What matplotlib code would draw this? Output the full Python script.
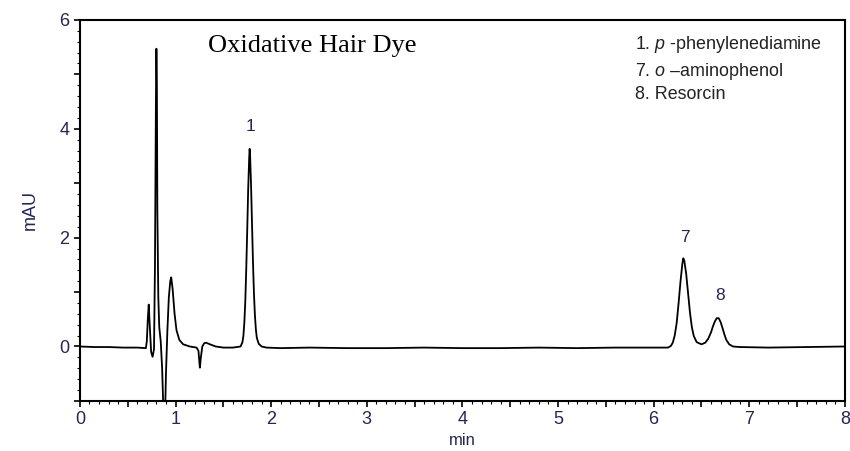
import matplotlib
matplotlib.use("Agg")
import matplotlib.pyplot as plt
from matplotlib.ticker import MultipleLocator, FuncFormatter

# chromatogram trace (time in min, signal in mAU)
time_min = [0.00, 0.15, 0.30, 0.45, 0.60, 0.69, 0.70, 0.71, 0.72, 0.73, 0.745,
            0.76, 0.775, 0.785, 0.795, 0.80, 0.805, 0.81, 0.82, 0.83, 0.845,
            0.86, 0.875, 0.89, 0.90, 0.915, 0.93, 0.945, 0.955, 0.97, 0.99,
            1.01, 1.04, 1.08, 1.15, 1.22, 1.24, 1.25, 1.255, 1.265, 1.28,
            1.30, 1.32, 1.36, 1.42, 1.50, 1.60, 1.68, 1.70, 1.71, 1.72, 1.73,
            1.74, 1.75, 1.76, 1.77, 1.775, 1.78, 1.79, 1.80, 1.81, 1.82, 1.83,
            1.84, 1.85, 1.87, 1.90, 1.95, 2.10, 2.40, 2.80, 3.20, 3.60, 4.00,
            4.40, 4.80, 5.20, 5.60, 6.00, 6.15, 6.18, 6.20, 6.22, 6.24, 6.26,
            6.28, 6.30, 6.31, 6.32, 6.34, 6.36, 6.38, 6.40, 6.42, 6.45, 6.50,
            6.54, 6.57, 6.60, 6.62, 6.64, 6.66, 6.68, 6.70, 6.72, 6.74, 6.76,
            6.79, 6.83, 6.90, 7.20, 7.60, 8.00]
signal_mau = [0.00, -0.01, -0.01, -0.02, -0.02, -0.03, 0.10, 0.50, 0.77, 0.40, -0.10,
              -0.19, -0.05, 1.50, 4.50, 5.47, 4.80, 2.50, 0.90, 0.35, 0.10,
              -0.40, -1.30, -1.30, -0.50, 0.30, 0.90, 1.20, 1.27, 1.05, 0.60,
              0.30, 0.12, 0.04, 0.00, -0.02, -0.08, -0.30, -0.39, -0.20, 0.00,
              0.06, 0.07, 0.04, 0.00, -0.02, -0.02, 0.00, 0.08, 0.20, 0.45, 0.85,
              1.45, 2.15, 2.90, 3.45, 3.63, 3.50, 2.95, 2.25, 1.55, 0.98, 0.58,
              0.32, 0.16, 0.05, 0.00, -0.02, -0.03, -0.02, -0.03, -0.03, -0.02, -0.03,
              -0.03, -0.02, -0.03, -0.02, -0.02, -0.02, 0.01, 0.07, 0.20, 0.42, 0.78,
              1.18, 1.52, 1.62, 1.58, 1.34, 0.98, 0.62, 0.35, 0.19, 0.08, 0.04,
              0.07, 0.14, 0.26, 0.37, 0.46, 0.52, 0.52, 0.45, 0.34, 0.22, 0.12,
              0.04, 0.00, -0.01, -0.02, -0.01, 0.00]

peak_ids = ["1", "7", "8"]
peak_label_x = [1.78, 6.33, 6.69]
peak_label_y = [4.05, 2.00, 0.94]

compound_num = ["1. ", "7. ", "8. "]
compound_prefix = ["p", "o", ""]
compound_name = [" -phenylenediamine", " \u2013aminophenol", "Resorcin"]

plt.rcParams["font.family"] = ["Liberation Sans", "DejaVu Sans"]
plt.rcParams["mathtext.fontset"] = "custom"
plt.rcParams["mathtext.it"] = "Liberation Sans:italic"
plt.rcParams["mathtext.rm"] = "Liberation Sans"

fig = plt.figure(figsize=(8.5, 4.51), dpi=100)
ax = fig.add_axes([0.094, 0.111, 0.900, 0.845])
ax.plot(time_min, signal_mau, color="black", linewidth=1.3)

ax.set_xlim(0, 8)
ax.set_ylim(-1, 6)

tick_col = "#242850"
ax.xaxis.set_major_locator(MultipleLocator(0.5))
ax.xaxis.set_minor_locator(MultipleLocator(0.1))
ax.xaxis.set_major_formatter(FuncFormatter(lambda v, p: "%d" % v if abs(v - round(v)) < 1e-6 else ""))
ax.yaxis.set_major_locator(MultipleLocator(1))
ax.yaxis.set_minor_locator(MultipleLocator(0.2))
ax.yaxis.set_major_formatter(FuncFormatter(lambda v, p: "%d" % v if round(v) % 2 == 0 else ""))
ax.tick_params(which="major", length=4, width=1.2, labelsize=13, labelcolor=tick_col, direction="out")
ax.tick_params(which="minor", length=2, width=0.8, direction="out")
for s in ax.spines.values():
    s.set_linewidth(1.5)

ax.set_xlabel("min", fontsize=12, color=tick_col, labelpad=3)
ax.set_ylabel("mAU", fontsize=13, color=tick_col, labelpad=15)

for lab, lx, ly in zip(peak_ids, peak_label_x, peak_label_y):
    ax.text(lx, ly, lab, fontsize=12.5, color=tick_col, ha="center", va="center")

ax.text(1.34, 5.52, "Oxidative Hair Dye", family="Liberation Serif", fontsize=19,
        ha="left", va="center", color="black")

leg_y = [5.54, 5.05, 4.62]
for num, pre, name, ly in zip(compound_num, compound_prefix, compound_name, leg_y):
    s = num + (r"$\it{%s}$" % pre if pre else "") + name
    ax.text(5.81, ly, s, fontsize=12.9, color="#222222", ha="left", va="center")

fig.savefig("out.png", dpi=100)
